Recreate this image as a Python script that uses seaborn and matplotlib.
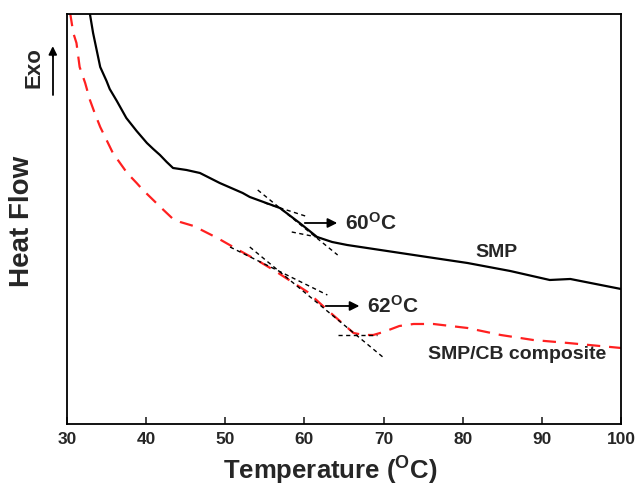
import numpy as np
import pandas as pd
import seaborn as sns
from matplotlib import pyplot as plt

# DSC traces (temperature in degC, heat flow in arbitrary units)
smp_temp = [32.9, 33.3, 33.75, 34.2, 35.0, 35.4, 36.3, 37.5, 38.8, 40.1, 40.9, 41.75,
            42.6, 43.4, 45.1, 46.8, 49.3, 52.2, 53.1, 56.9, 59.4, 61.6, 63.5, 65.4,
            69.6, 75.5, 80.6, 86.0, 91.0, 93.6, 100.0]
smp_flow = [41.0, 39.1, 37.4, 35.7, 34.3, 33.5, 32.3, 30.6, 29.3, 28.1, 27.5, 26.9,
            26.2, 25.6, 25.4, 25.1, 24.1, 23.1, 22.7, 21.6, 20.1, 18.7, 18.2, 17.9,
            17.4, 16.7, 16.1, 15.3, 14.4, 14.5, 13.5]

cb_temp = [30.4, 30.8, 31.2, 31.6, 32.3, 32.9, 33.5, 34.2, 35.0, 35.8, 36.7, 37.6,
           38.8, 39.6, 41.8, 43.4, 44.3, 46.0, 49.0, 51.0, 54.4, 56.1, 60.4, 62.9,
           66.2, 67.5, 68.7, 70.0, 72.0, 73.8, 76.3, 80.6, 84.8, 88.9, 93.3, 100.0]
cb_flow = [41.1, 39.1, 38.1, 35.7, 34.1, 32.4, 31.1, 29.7, 28.4, 27.1, 26.1, 25.1,
           24.1, 23.4, 21.7, 20.5, 20.2, 19.8, 18.6, 17.7, 16.2, 15.4, 13.2, 11.4,
           9.1, 8.9, 8.9, 9.2, 9.8, 10.0, 10.0, 9.6, 8.9, 8.4, 8.1, 7.6]

# tangent construction lines: (T start, T end, flow start, flow end)
tangents = [
    (54.1, 64.2, 23.4, 16.9),
    (55.0, 60.5, 22.1, 20.7),
    (58.4, 62.2, 19.2, 18.6),
    (53.1, 69.9, 17.7, 6.7),
    (50.6, 62.9, 17.7, 12.9),
    (64.2, 69.2, 8.9, 8.9),
]

tg_labels = ["60", "62"]
tg_arrows = [(59.7, 64.5, 20.1), (62.35, 67.3, 11.8)]

sns.set_style("white")
plt.rcParams['font.family'] = ['Liberation Sans', 'DejaVu Sans']
plt.rcParams['font.weight'] = 'bold'
plt.rcParams['mathtext.fontset'] = 'custom'
plt.rcParams['mathtext.rm'] = 'Liberation Sans:bold'
plt.rcParams['mathtext.bf'] = 'Liberation Sans:bold'
plt.rcParams['mathtext.default'] = 'bf'

fig = plt.figure(figsize=(6.36, 4.93), dpi=100)
ax = fig.add_axes([0.1053, 0.14, 0.8711, 0.8316])

smp = pd.DataFrame({"T": smp_temp, "flow": smp_flow})
cb = pd.DataFrame({"T": cb_temp, "flow": cb_flow})
sns.lineplot(data=smp, x="T", y="flow", color="black", linewidth=1.6, ax=ax)
sns.lineplot(data=cb, x="T", y="flow", color="#ff2020", linewidth=1.6, ax=ax,
             dashes=False, linestyle=(0, (6, 4)))

for t0, t1, f0, f1 in tangents:
    ax.plot([t0, t1], [f0, f1], color="black", linewidth=1.0, linestyle=(0, (3, 2.5)))

for (x0, x1, y), lab in zip(tg_arrows, tg_labels):
    ax.annotate("", xy=(x1, y), xytext=(x0, y),
                arrowprops=dict(arrowstyle="-|>", color="black", lw=1.3, mutation_scale=14))
    ax.text(x1 + 0.6, y, lab + r"$^{\rm O}$C", fontsize=15, fontweight="bold",
            va="center", ha="left")

ax.text(84.3, 17.1, "SMP", fontsize=14, fontweight="bold", ha="center", va="center")
ax.text(86.9, 6.9, "SMP/CB composite", fontsize=14, fontweight="bold", ha="center", va="center")

ax.set_xlim(30, 100)
ax.set_ylim(0, 41)
ax.set_xticks(np.arange(30, 101, 10))
ax.set_yticks([])
ax.tick_params(axis="x", direction="in", length=5, width=1.2, labelsize=12.5, pad=6, bottom=True)
for lbl in ax.get_xticklabels():
    lbl.set_fontweight("bold")
for sp in ax.spines.values():
    sp.set_linewidth(1.3)
    sp.set_color("black")

ax.set_xlabel("")
ax.set_ylabel("")
fig.text(0.52, 0.045, r"Temperature ($^{\rm O}$C)", fontsize=18.5, fontweight="bold",
         ha="center", va="center")
fig.text(0.035, 0.55, "Heat Flow", rotation=90, fontsize=20, fontweight="bold",
         ha="center", va="center")
fig.text(0.054, 0.863, "Exo", rotation=90, fontsize=16, fontweight="bold",
         ha="center", va="center")
fig.add_artist(plt.Line2D([0.083, 0.083], [0.807, 0.895], transform=fig.transFigure,
                          color="black", lw=1.3))
ax.annotate("", xy=(0.083, 0.912), xytext=(0.083, 0.88), xycoords="figure fraction",
            textcoords="figure fraction",
            arrowprops=dict(arrowstyle="-|>", color="black", lw=1.3, mutation_scale=12))

fig.savefig("out.png", dpi=100)
